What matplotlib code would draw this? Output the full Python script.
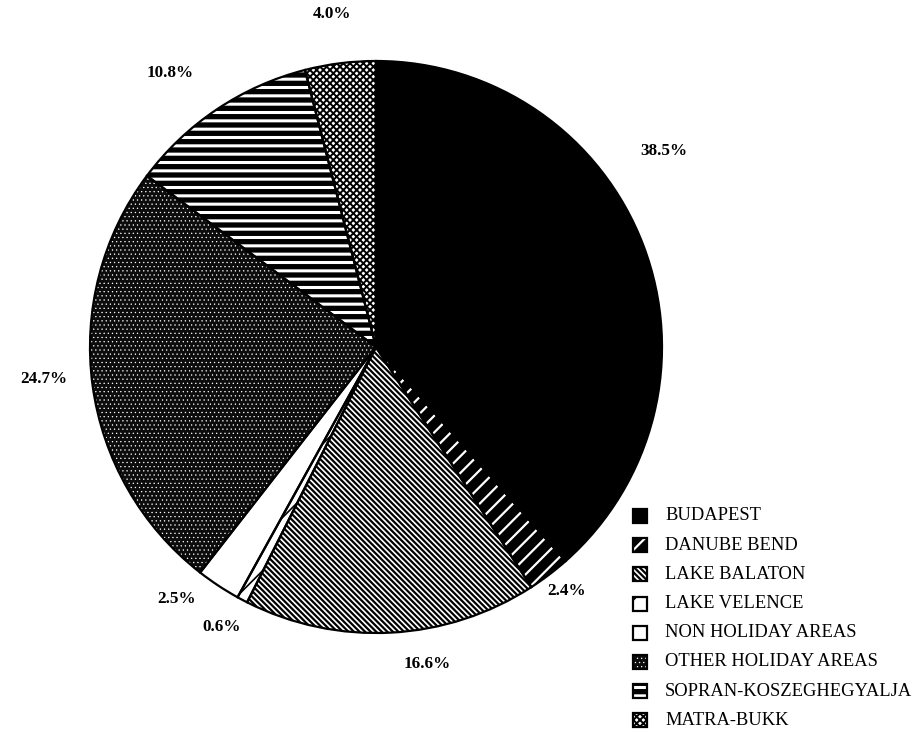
import matplotlib
matplotlib.use('Agg')
import matplotlib.pyplot as plt
from matplotlib.patches import Rectangle

#----------------------------------------------------------------------
# Data (clockwise from 12 o'clock)
#----------------------------------------------------------------------
regions = ['BUDAPEST', 'DANUBE BEND', 'LAKE BALATON', 'LAKE VELENCE',
           'NON HOLIDAY AREAS', 'OTHER HOLIDAY AREAS',
           'SOPRAN-KOSZEGHEGYALJA', 'MATRA-BUKK']
shares = [38.5, 2.4, 16.6, 0.6, 2.5, 24.7, 10.8, 4.0]
share_labels = ['38.5%', '2.4%', '16.6%', '0.6%', '2.5%', '24.7%', '10.8%', '4.0%']

# fill styles: (face, hatch, hatch colour, hatch linewidth)
fills = [('black', None, 'black', 1.0),
         ('black', '//', 'white', 1.6),
         ('white', '\\\\\\\\\\\\', 'black', 1.6),
         ('white', '/', 'black', 1.2),
         ('white', None, 'black', 1.0),
         ('#0c0c0c', '....', 'white', 0.4),
         ('black', '--', 'white', 2.2),
         ('white', 'xxxxx', 'black', 1.4)]

# where the percent labels sit (pie radius = 1)
label_xy = [(1.005, 0.685), (0.668, -0.853), (0.178, -1.108), (-0.541, -0.979),
            (-0.699, -0.881), (-1.161, -0.112), (-0.720, 0.958), (-0.154, 1.164)]

serif = ['Liberation Serif', 'DejaVu Serif']


def style_patch(p, fc, hatch, hc, hlw):
    p.set_facecolor(fc)
    p.set_edgecolor(hc)
    p.set_linewidth(0)
    if hatch:
        p.set_hatch(hatch)
        if hasattr(p, 'set_hatch_linewidth'):
            p.set_hatch_linewidth(hlw)


plt.rcParams['hatch.linewidth'] = 1.2

W, H = 923, 736
fig = plt.figure(figsize=(W/100, H/100), dpi=100)
cx, cy, R = 376, 347, 286
ax = fig.add_axes([(cx-R)/W, (H-cy-R)/H, 2*R/W, 2*R/H])

# filled / hatched wedges
wedges, _ = ax.pie(shares, startangle=90, counterclock=False, radius=1)
for w, f in zip(wedges, fills):
    style_patch(w, *f)

# outlines on top
ax.pie(shares, startangle=90, counterclock=False, radius=1,
       wedgeprops=dict(fill=False, edgecolor='black', linewidth=1.6))
ax.set_xlim(-1, 1)
ax.set_ylim(-1, 1)
ax.axis('off')

for (x, y), t in zip(label_xy, share_labels):
    ax.text(x, y, t, ha='center', va='center', fontsize=12.3,
            fontweight='bold', family=serif, clip_on=False)

#------------------ legend drawn by hand -------------------------------
y0, dy = 516, 29.2
for i, (name, f) in enumerate(zip(regions, fills)):
    yy = y0 + i*dy
    xy = (633/W, 1-(yy+7)/H)
    box = Rectangle(xy, 14/W, 14/H, transform=fig.transFigure)
    style_patch(box, *f)
    fig.add_artist(box)
    fig.add_artist(Rectangle(xy, 14/W, 14/H, transform=fig.transFigure,
                             fill=False, edgecolor='black', linewidth=1.6))
    fig.text(665/W, 1-yy/H, name, ha='left', va='center', fontsize=13.3,
             family=serif)

fig.savefig('out.png', dpi=100)
